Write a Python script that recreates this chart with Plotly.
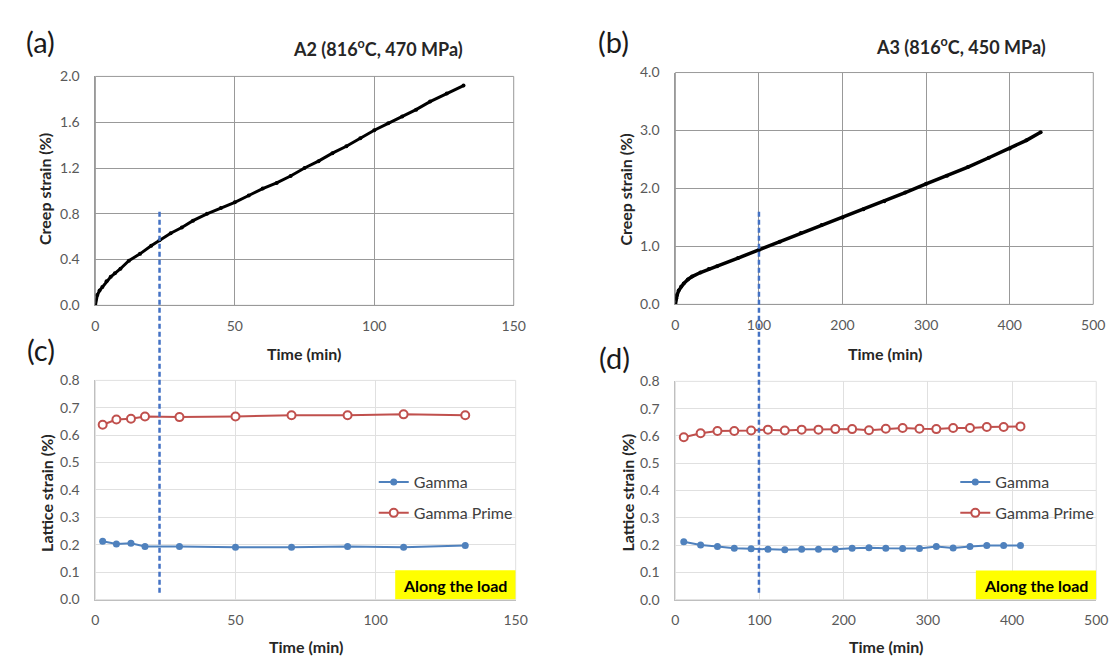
import plotly.graph_objects as go

# creep curves
a_time = [0, 0.7, 1.5, 2.5, 4, 5.5, 7, 9, 12, 16, 20, 23, 27, 31, 35, 40, 45, 50, 55, 60,
          65, 70, 75, 80, 85, 90, 95, 100, 105, 110, 115, 120, 126, 132]
a_strain = [0, 0.09, 0.13, 0.16, 0.21, 0.25, 0.28, 0.32, 0.39, 0.45, 0.52, 0.57, 0.63, 0.68, 0.74,
            0.80, 0.85, 0.90, 0.96, 1.02, 1.07, 1.13, 1.20, 1.26, 1.33, 1.39, 1.46, 1.53, 1.59,
            1.65, 1.71, 1.78, 1.85, 1.92]

b_time = [0, 1, 2, 4, 7, 10, 15, 20, 30, 40, 50, 75, 100, 125, 150, 175, 200, 225, 250, 275,
          300, 325, 350, 375, 400, 420, 437]
b_strain = [0, 0.10, 0.16, 0.24, 0.31, 0.36, 0.43, 0.48, 0.55, 0.61, 0.66, 0.80, 0.94, 1.08,
            1.23, 1.37, 1.50, 1.64, 1.78, 1.93, 2.08, 2.22, 2.37, 2.53, 2.69, 2.83, 2.97]

# lattice strains
c_time = [2.6, 7.5, 12.7, 17.7, 30, 50, 70, 90, 110, 132]
c_gamma = [0.213, 0.203, 0.206, 0.194, 0.194, 0.191, 0.191, 0.194, 0.191, 0.197]
c_prime = [0.638, 0.657, 0.660, 0.668, 0.666, 0.668, 0.673, 0.673, 0.676, 0.673]

d_time = [10, 30, 50, 70, 90, 110, 130, 150, 170, 190, 210, 230, 250, 270, 290, 310,
          330, 350, 370, 390, 410]
d_gamma = [0.212, 0.200, 0.195, 0.188, 0.186, 0.185, 0.183, 0.185, 0.185, 0.185, 0.188,
           0.190, 0.188, 0.187, 0.187, 0.195, 0.189, 0.195, 0.198, 0.198, 0.198]
d_prime = [0.595, 0.610, 0.618, 0.618, 0.620, 0.623, 0.620, 0.623, 0.623, 0.625, 0.625,
           0.621, 0.626, 0.629, 0.626, 0.625, 0.629, 0.629, 0.633, 0.633, 0.635]

cut_time_a = 23
cut_time_b = 100

W, H = 1117, 660
FONT = "Lato"
BLUE = "#4f81bd"
RED = "#c0504d"


def px(x):
    return x / W


def py(y):
    return 1 - y / H


# plot areas in pixels: left, right, top, bottom
boxes = {
    "a": (84.6, 509, 61, 296),
    "b": (673, 1097, 57, 295),
    "c": (84.6, 511, 373, 598),
    "d": (673, 1100, 374, 598),
}

fig = go.Figure()

fig.add_trace(go.Scatter(x=a_time, y=a_strain, mode="lines+markers", xaxis="x", yaxis="y",
                         line=dict(color="black", width=3), marker=dict(size=4, color="black"),
                         showlegend=False))
fig.add_trace(go.Scatter(x=b_time, y=b_strain, mode="lines+markers", xaxis="x2", yaxis="y2",
                         line=dict(color="black", width=3.5), marker=dict(size=4, color="black"),
                         showlegend=False))

for t, g, p, ax, lg in [(c_time, c_gamma, c_prime, "3", "legend"),
                        (d_time, d_gamma, d_prime, "4", "legend2")]:
    fig.add_trace(go.Scatter(x=t, y=g, mode="lines+markers", name="Gamma",
                             xaxis="x" + ax, yaxis="y" + ax, legend=lg, legendgroup="g" + ax,
                             line=dict(color=BLUE, width=2),
                             marker=dict(size=7, color=BLUE)))
    fig.add_trace(go.Scatter(x=t, y=p, mode="lines+markers", name="Gamma Prime",
                             xaxis="x" + ax, yaxis="y" + ax, legend=lg, legendgroup="p" + ax,
                             line=dict(color=RED, width=2),
                             marker=dict(size=8, color="white", line=dict(color=RED, width=2))))

tickfont = dict(family=FONT, size=14, color="#595959")
layout = dict(width=W, height=H, margin=dict(l=0, r=0, t=0, b=0),
              plot_bgcolor="white", paper_bgcolor="white", font=dict(family=FONT))

specs = [
    ("a", "", [0, 150], 50, [0, 2.0], 0.4, "#999999", "#999999"),
    ("b", "2", [0, 500], 100, [0, 4.0], 1.0, "#999999", "#999999"),
    ("c", "3", [0, 150], 50, [0, 0.8], 0.1, "#e0e0e0", "#bfbfbf"),
    ("d", "4", [0, 500], 100, [0, 0.8], 0.1, "#e0e0e0", "#bfbfbf"),
]
shapes = []
for key, n, xr, dx, yr, dy, grid, line in specs:
    l, r, t, b = boxes[key]
    layout["xaxis" + n] = dict(domain=[px(l), px(r)], range=xr, dtick=dx, anchor="y" + n,
                               showgrid=True, gridcolor=grid, zeroline=False,
                               showline=True, linecolor=line, ticks="", tickfont=tickfont,
                               ticklabelstandoff=8, fixedrange=True)
    layout["yaxis" + n] = dict(domain=[py(b), py(t)], range=yr, dtick=dy, anchor="x" + n,
                               showgrid=True, gridcolor=grid, zeroline=False,
                               showline=True, linecolor=line, ticks="", tickfont=tickfont,
                               tickformat=".1f", ticklabelstandoff=12, fixedrange=True)
    shapes.append(dict(type="rect", xref=f"x{n} domain", yref=f"y{n} domain",
                       x0=0, x1=1, y0=0, y1=1, line=dict(color=grid, width=1), layer="below"))

# yellow "Along the load" boxes
shapes.append(dict(type="rect", xref="x3", yref="y3", x0=107, x1=150, y0=0, y1=0.107,
                   fillcolor="#ffff00", line=dict(width=0), layer="above"))
shapes.append(dict(type="rect", xref="x4", yref="y4", x0=357, x1=500, y0=0, y1=0.107,
                   fillcolor="#ffff00", line=dict(width=0), layer="above"))

# dashed markers spanning the upper and lower panels
for xref, xv in [("x", cut_time_a), ("x2", cut_time_b)]:
    shapes.append(dict(type="line", xref=xref, yref="paper", x0=xv, x1=xv,
                       y0=py(591), y1=py(197),
                       line=dict(color="#4472c4", width=2.5, dash="5px,3px")))

layout["shapes"] = shapes

ann = []


def text(x, y, s, size=16, bold=True, angle=0, color="#262626"):
    ann.append(dict(x=px(x), y=py(y), xref="paper", yref="paper", text=f"<b>{s}</b>" if bold else s,
                    showarrow=False, textangle=angle, xanchor="center", yanchor="middle",
                    font=dict(family=FONT, size=size, color=color)))


text(29, 25, "(a)", size=29, bold=False, color="#1a1a1a")
text(610, 25, "(b)", size=29, bold=False, color="#1a1a1a")
text(29, 341, "(c)", size=29, bold=False, color="#1a1a1a")
text(611, 350, "(d)", size=29, bold=False, color="#1a1a1a")
text(371, 32, "A2 (816<sup>o</sup>C, 470 MPa)", size=18)
text(963, 30, "A3 (816<sup>o</sup>C, 450 MPa)", size=18)
text(296, 345, "Time (min)")
text(886, 345, "Time (min)")
text(298, 646, "Time (min)")
text(887, 646, "Time (min)")
text(33, 177, "Creep strain (%)", angle=-90)
text(622, 177, "Creep strain (%)", angle=-90)
text(35, 488, "Lattice strain (%)", angle=-90)
text(624, 488, "Lattice strain (%)", angle=-90)
text(449, 584, "Along the load", size=16, color="black")
text(1039, 584, "Along the load", size=16, color="black")
layout["annotations"] = ann

legend_style = dict(font=dict(family=FONT, size=16, color="#404040"), bgcolor="rgba(0,0,0,0)",
                    itemwidth=30, tracegroupgap=7, traceorder="grouped",
                    xanchor="left", yanchor="top")
layout["legend"] = dict(x=px(367), y=py(460), **legend_style)
layout["legend2"] = dict(x=px(957), y=py(460), **legend_style)

fig.update_layout(**layout)
fig.write_html("out.html")
